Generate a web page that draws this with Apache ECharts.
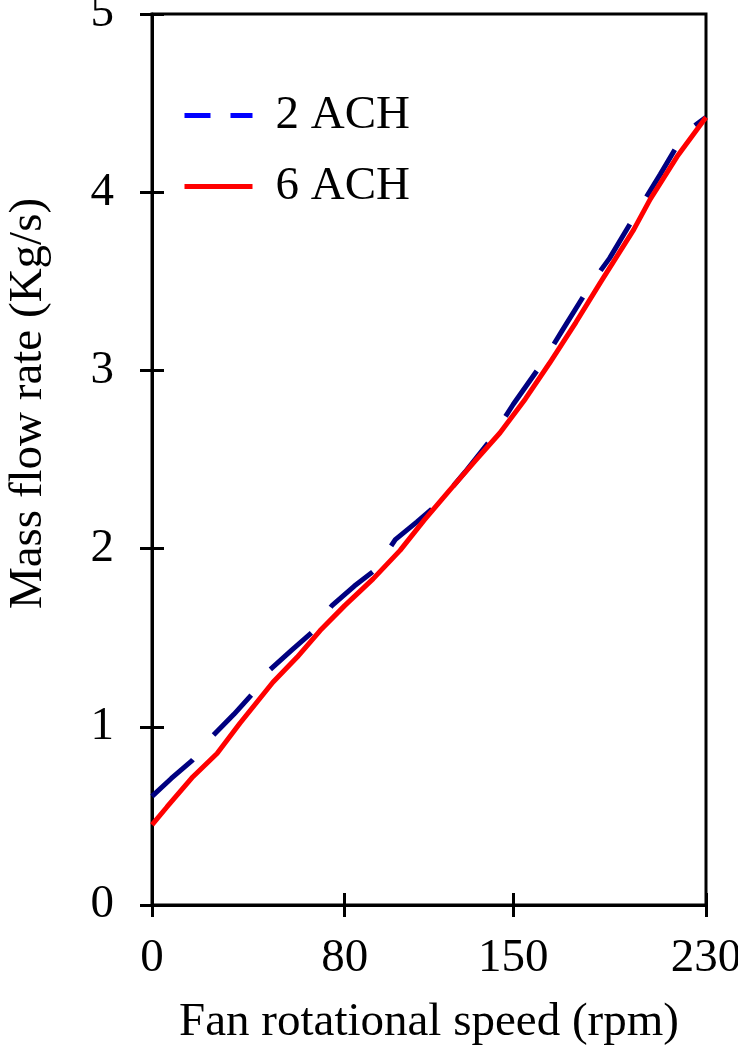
<!DOCTYPE html>
<html>
<head>
<meta charset="utf-8">
<script src="https://cdn.jsdelivr.net/npm/echarts@6/dist/echarts.min.js"></script>
<style>
  html, body { margin: 0; padding: 0; background: #fff; }
  #chart { width: 738px; height: 1050px; }
</style>
</head>
<body>
<div id="chart"></div>
<script>
  // Datas
  var speedTicks = [0, 80, 150, 230];
  var flowTicks = [0, 1, 2, 3, 4, 5];

  // 2 ACH
  var speed2 = [0, 8, 16.6, 25.3, 34, 42, 49, 58, 66.4, 74.7, 84, 92.6, 101, 110, 118.7, 130, 140, 150, 162, 170.6, 183, 190, 201, 211, 221, 230];
  var flow2 = [0.61, 0.71, 0.81, 0.95, 1.07, 1.19, 1.32, 1.43, 1.53, 1.68, 1.79, 1.88, 2.05, 2.15, 2.25, 2.43, 2.6, 2.81, 3.04, 3.23, 3.50, 3.63, 3.88, 4.1, 4.33, 4.42];

  // 6 ACH
  var speed6 = [0, 6.2, 17, 27, 36.5, 50.2, 60.2, 69.8, 80, 91.8, 103, 113, 123.7, 134, 144.5, 155, 165, 176, 186, 200, 206.8, 218, 230];
  var flow6 = [0.45, 0.55, 0.72, 0.85, 1.02, 1.25, 1.39, 1.54, 1.68, 1.83, 1.99, 2.16, 2.33, 2.49, 2.65, 2.84, 3.04, 3.27, 3.49, 3.79, 3.96, 4.2, 4.42];

  function pairs(xs, ys) {
    return xs.map(function (x, i) { return [x, ys[i]]; });
  }

  var font = 'Liberation Serif';
  var black = '#000';
  var fs = 47;

  var chart = echarts.init(document.getElementById('chart'));
  var option = {
    animation: false,
    backgroundColor: '#fff',
    grid: {
      left: 152, right: 32, top: 14, bottom: 145,
      outerBoundsMode: 'none',
      show: true, borderColor: black, borderWidth: 3
    },
    legend: {
      orient: 'vertical',
      left: 182,
      top: 91,
      padding: 0,
      itemWidth: 68,
      itemHeight: 20,
      itemGap: 22,
      textStyle: { fontFamily: font, fontSize: fs, color: black, lineHeight: 49, padding: [0, 0, 0, 18] },
      data: [
        { name: '2 ACH', itemStyle: { opacity: 0 }, lineStyle: { color: '#0000ff', width: 5, type: [26, 20] } },
        { name: '6 ACH', itemStyle: { opacity: 0 }, lineStyle: { color: '#ff0000', width: 5 } }
      ]
    },
    xAxis: [{
      type: 'value', min: 0, max: 230, position: 'bottom',
      name: 'Fan rotational speed (rpm)', nameLocation: 'middle', nameGap: 94,
      nameTextStyle: { fontFamily: font, fontSize: fs, color: black },
      axisLine: { lineStyle: { color: black, width: 3 } },
      axisTick: { customValues: speedTicks, length: 12, lineStyle: { color: black, width: 3 } },
      axisLabel: { customValues: speedTicks, fontFamily: font, fontSize: fs, color: black, margin: 30 },
      splitLine: { show: false }
    }, {
      type: 'value', min: 0, max: 230, position: 'bottom',
      axisLine: { show: false },
      axisTick: { inside: true, customValues: speedTicks, length: 12, lineStyle: { color: black, width: 3 } },
      axisLabel: { show: false },
      splitLine: { show: false }
    }],
    yAxis: [{
      type: 'value', min: 0, max: 5, interval: 1, position: 'left',
      name: 'Mass flow rate (Kg/s)', nameLocation: 'middle', nameGap: 100,
      nameTextStyle: { fontFamily: font, fontSize: fs, color: black, padding: [0, 0, 0, 112] },
      axisLine: { lineStyle: { color: black, width: 3 } },
      axisTick: { length: 12, lineStyle: { color: black, width: 3 } },
      axisLabel: { customValues: flowTicks, fontFamily: font, fontSize: fs, color: black, margin: 38 },
      splitLine: { show: false }
    }, {
      type: 'value', min: 0, max: 5, interval: 1, position: 'left',
      axisLine: { show: false },
      axisTick: { inside: true, length: 12, lineStyle: { color: black, width: 3 } },
      axisLabel: { show: false },
      splitLine: { show: false }
    }],
    series: [{
      name: '2 ACH',
      type: 'line',
      symbol: 'none',
      color: '#000080',
      lineStyle: { color: '#000080', width: 5, type: [55, 32] },
      data: pairs(speed2, flow2)
    }, {
      name: '6 ACH',
      type: 'line',
      symbol: 'none',
      color: '#ff0000',
      lineStyle: { color: '#ff0000', width: 5 },
      data: pairs(speed6, flow6)
    }]
  };
  chart.setOption(option);
</script>
</body>
</html>
